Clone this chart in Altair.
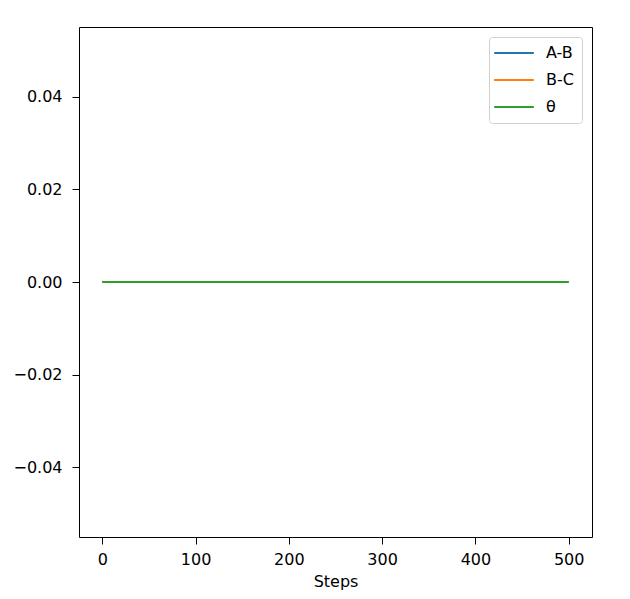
import altair as alt
import pandas as pd

steps = list(range(0, 501))
ab_values = [0.0] * len(steps)
bc_values = [0.0] * len(steps)
theta_values = [0.0] * len(steps)

series_names = ["A-B", "B-C", "θ"]
series_colors = ["#1f77b4", "#ff7f0e", "#2ca02c"]
x_ticks = [0, 100, 200, 300, 400, 500]
y_ticks = [-0.04, -0.02, 0.0, 0.02, 0.04]

rows = []
for name, vals in zip(series_names, [ab_values, bc_values, theta_values]):
    for s, v in zip(steps, vals):
        rows.append({"Steps": s, "value": v, "series": name})
df = pd.DataFrame(rows)

FONT = "DejaVu Sans"

chart = alt.Chart(df).mark_line(strokeWidth=2).encode(
    x=alt.X("Steps:Q",
            scale=alt.Scale(domain=[-25, 525], nice=False, zero=False),
            axis=alt.Axis(values=x_ticks, title="Steps", grid=False, format="d",
                          labelPadding=7, titlePadding=6)),
    y=alt.Y("value:Q",
            scale=alt.Scale(domain=[-0.055, 0.055], nice=False, zero=False),
            axis=alt.Axis(values=y_ticks, title=None, grid=False, format=".2f",
                          labelPadding=10)),
    color=alt.Color("series:N",
                    scale=alt.Scale(domain=series_names, range=series_colors),
                    sort=series_names,
                    legend=alt.Legend(title=None, orient="top-right", offset=10,
                                      symbolType="M-3,0L3,0", symbolSize=175,
                                      symbolStrokeWidth=2,
                                      symbolOffset=9,
                                      labelFontSize=16, labelFont=FONT,
                                      labelColor="#000000",
                                      labelOffset=24,
                                      rowPadding=11,
                                      padding=8,
                                      fillColor="white",
                                      strokeColor="#d0d0d0",
                                      cornerRadius=3)),
    order=alt.Order("series:N"),
).properties(
    width=513,
    height=510,
    autosize=alt.AutoSizeParams(type="none"),
    padding={"left": 71, "top": 19, "right": 30, "bottom": 53},
).configure_view(
    stroke="#000000", strokeWidth=1
).configure_axis(
    domain=False,
    tickColor="#000000", tickSize=7, tickWidth=1,
    labelFont=FONT, labelFontSize=16, labelColor="#000000",
    titleFont=FONT, titleFontSize=16, titleFontWeight="normal", titleColor="#000000",
)

chart.save("out.html", embed_options={"renderer": "svg", "actions": False})
